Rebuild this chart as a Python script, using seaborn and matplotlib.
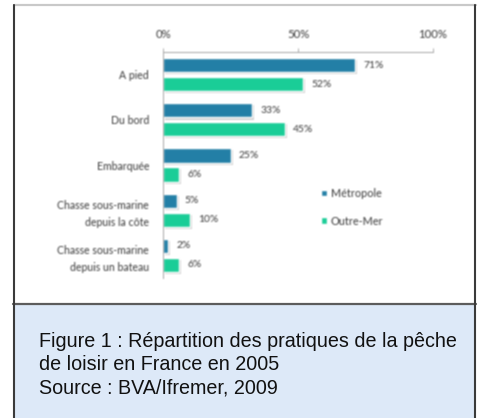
import numpy as np
import pandas as pd
import matplotlib
matplotlib.use("Agg")
import matplotlib.pyplot as plt
import matplotlib.patheffects as pe
from matplotlib.patches import Rectangle
from matplotlib.lines import Line2D
import seaborn as sns

# Data: share of recreational fishing practices, 2005
categories = ["A pied", "Du bord", "Embarquée",
              "Chasse sous-marine\ndepuis la côte",
              "Chasse sous-marine\ndepuis un bateau"]
metropole = [71, 33, 25, 5, 2]
outre_mer = [52, 45, 6, 10, 6]
zones = ["Métropole", "Outre-Mer"]
x_ticks = [0, 50, 100]
x_tick_labels = ["0%", "50%", "100%"]
caption_lines = ["Figure 1 : Répartition des pratiques de la pêche",
                 "de loisir en France en 2005",
                 "Source : BVA/Ifremer, 2009"]

colors = ["#237fa6", "#1acd97"]

df = pd.DataFrame({
    "cat": categories * 2,
    "val": metropole + outre_mer,
    "zone": [zones[0]] * len(categories) + [zones[1]] * len(categories),
})

sns.set_style("white")
plt.rcParams["font.family"] = ["Lato", "DejaVu Sans"]

W, H = 479, 418
fig = plt.figure(figsize=(W / 100, H / 100), dpi=100)
fig.patch.set_facecolor("white")


def fx(px):
    return px / W


def fy(py):
    return 1 - py / H


# Caption panel and frame
fig.patches.append(Rectangle((fx(13), 0), fx(462), fy(304), transform=fig.transFigure,
                             facecolor="#dde9f8", edgecolor="none", zorder=0))
fig.lines.append(Line2D([fx(13), fx(476)], [fy(304), fy(304)], transform=fig.transFigure,
                        color="#5c5c5c", lw=1.6))
fig.lines.append(Line2D([fx(14), fx(476)], [fy(5), fy(5)], transform=fig.transFigure,
                        color="#c9c9c9", lw=1.6))
fig.lines.append(Line2D([fx(14), fx(14)], [0, fy(5)], transform=fig.transFigure,
                        color="#3a3a3a", lw=1.5))
fig.lines.append(Line2D([fx(475), fx(475)], [0, fy(5)], transform=fig.transFigure,
                        color="#3a3a3a", lw=1.5))

# Bar chart
ax = fig.add_axes([fx(163), fy(278), fx(433 - 163), (278 - 52) / H])
sns.barplot(data=df, y="cat", x="val", hue="zone", orient="h", palette=colors,
            saturation=1, width=0.84, gap=0.25, ax=ax, legend=True)

shadow = [pe.SimplePatchShadow(offset=(1.5, -1.5), shadow_rgbFace="#999999", alpha=0.45),
          pe.Normal()]
for cont in ax.containers:
    for bar in cont:
        bar.set_path_effects(shadow)
    ax.bar_label(cont, labels=[f"{int(round(b.get_width()))}%" for b in cont],
                 padding=6, fontsize=7.4, color="#3a3a3a")

ax.set_xlim(0, 100)
ax.set_ylim(len(categories) - 0.5, -0.5)
ax.xaxis.tick_top()
ax.set_xticks(x_ticks)
ax.set_xticklabels(x_tick_labels, fontsize=8.2, color="#3a3a3a")
ax.tick_params(axis="x", direction="out", length=3, width=0.6, color="#a0a0a0", pad=6)
ax.set_yticks(range(len(categories)))
ax.set_yticklabels(categories, fontsize=7.6, color="#3a3a3a", linespacing=1.6)
ax.tick_params(axis="y", which="major", length=0, pad=10)
ax.set_yticks(np.arange(-0.5, len(categories), 1), minor=True)
ax.tick_params(axis="y", which="minor", direction="out", length=3, width=0.6, color="#a0a0a0")
ax.set_xlabel("")
ax.set_ylabel("")
for s in ["bottom", "right"]:
    ax.spines[s].set_visible(False)
for s in ["top", "left"]:
    ax.spines[s].set_color("#a8a8a8")
    ax.spines[s].set_linewidth(0.7)
ax.set_facecolor("none")

leg = ax.legend(loc="upper left", bbox_to_anchor=(fx(311), fy(178)),
                bbox_transform=fig.transFigure, frameon=False, fontsize=7.8,
                handlelength=0.55, handleheight=0.55, handletextpad=0.35,
                labelspacing=1.55)
for t in leg.get_texts():
    t.set_color("#3a3a3a")

# Caption
for i, line in enumerate(caption_lines):
    fig.text(fx(39), fy(347 + i * 23.5), line, fontsize=14.2, color="#111111",
             family=["Liberation Sans", "DejaVu Sans"], va="baseline", ha="left")

fig.canvas.draw()
img = np.asarray(fig.canvas.buffer_rgba()).astype(float)

# Soften the chart area
k = np.array([0.25, 0.5, 0.25])
y0, y1, x0, x1 = 8, 301, 16, 473
reg = img[y0:y1, x0:x1, :3]
reg = k[0] * np.roll(reg, 1, 0) + k[1] * reg + k[2] * np.roll(reg, -1, 0)
reg = k[0] * np.roll(reg, 1, 1) + k[1] * reg + k[2] * np.roll(reg, -1, 1)
img[y0 + 1:y1 - 1, x0 + 1:x1 - 1, :3] = reg[1:-1, 1:-1]

plt.imsave("out.png", np.clip(img, 0, 255).astype(np.uint8))
